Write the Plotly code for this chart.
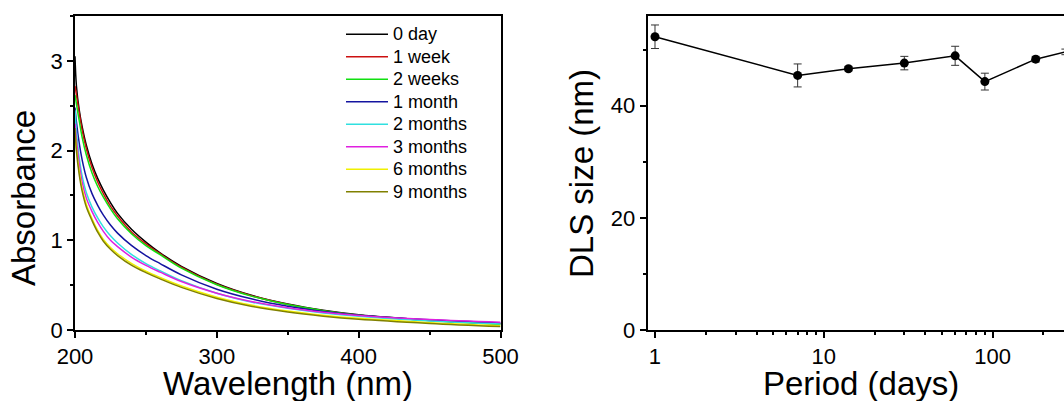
import plotly.graph_objects as go

# ---------------- data ----------------
wavelength = [200, 201, 203, 205, 208, 212, 216, 220, 225, 230, 240, 250, 260, 275, 300, 325, 350, 375, 400, 450, 500]

abs_0day    = [3.05, 2.72, 2.45, 2.27, 2.06, 1.85, 1.69, 1.56, 1.42, 1.30, 1.12, 0.98, 0.86, 0.71, 0.52, 0.385, 0.29, 0.22, 0.17, 0.11, 0.072]
abs_1week   = [2.72, 2.62, 2.42, 2.23, 2.02, 1.81, 1.65, 1.52, 1.38, 1.27, 1.09, 0.96, 0.85, 0.70, 0.51, 0.38, 0.285, 0.215, 0.165, 0.107, 0.068]
abs_2weeks  = [2.62, 2.52, 2.33, 2.15, 1.95, 1.75, 1.60, 1.48, 1.35, 1.24, 1.07, 0.94, 0.84, 0.69, 0.505, 0.375, 0.283, 0.215, 0.165, 0.105, 0.062]
abs_1month  = [2.48, 2.32, 2.08, 1.90, 1.70, 1.52, 1.39, 1.28, 1.17, 1.08, 0.94, 0.83, 0.74, 0.615, 0.455, 0.345, 0.265, 0.207, 0.165, 0.113, 0.078]
abs_2months = [2.45, 2.22, 1.92, 1.72, 1.53, 1.37, 1.25, 1.15, 1.05, 0.97, 0.84, 0.74, 0.66, 0.55, 0.41, 0.31, 0.242, 0.19, 0.152, 0.10, 0.066]
abs_3months = [2.30, 2.12, 1.85, 1.65, 1.47, 1.32, 1.20, 1.10, 1.00, 0.93, 0.81, 0.72, 0.645, 0.54, 0.41, 0.315, 0.248, 0.198, 0.162, 0.117, 0.087]
abs_6months = [2.20, 2.02, 1.77, 1.58, 1.40, 1.24, 1.11, 1.01, 0.92, 0.85, 0.74, 0.655, 0.585, 0.49, 0.365, 0.275, 0.212, 0.165, 0.13, 0.082, 0.048]
abs_9months = [2.25, 2.00, 1.73, 1.55, 1.37, 1.22, 1.09, 0.99, 0.90, 0.83, 0.72, 0.64, 0.57, 0.475, 0.352, 0.262, 0.20, 0.154, 0.119, 0.073, 0.038]

series_names = ["0 day", "1 week", "2 weeks", "1 month", "2 months", "3 months", "6 months", "9 months"]
series_values = [abs_0day, abs_1week, abs_2weeks, abs_1month, abs_2months, abs_3months, abs_6months, abs_9months]
series_colors = ["#000000", "#CC1010", "#10E010", "#1414A0", "#30E0E0", "#E020E0", "#F0F000", "#808000"]

period_days = [1, 7, 14, 30, 60, 90, 180, 270]
dls_size    = [52.3, 45.4, 46.6, 47.6, 48.9, 44.3, 48.3, 49.6]
dls_err     = [2.1, 2.05, 0.4, 1.2, 1.7, 1.5, 0.5, 0.5]

# ---------------- layout geometry (pixels) ----------------
W, H = 1064, 401
FONT = "Arial, Liberation Sans, sans-serif"


def px_x(p):
    return p / W


def px_y(p):
    return (H - p) / H


fig = go.Figure()

for name, vals, col in zip(series_names, series_values, series_colors):
    fig.add_trace(go.Scatter(
        x=wavelength, y=vals, mode="lines",
        name="<span style='font-size:18px'>%s</span>" % name,
        line=dict(color=col, width=1.5, shape="spline", smoothing=1.0),
        xaxis="x", yaxis="y", showlegend=True,
    ))

fig.add_trace(go.Scatter(
    x=period_days, y=dls_size, mode="lines+markers",
    line=dict(color="#000000", width=1.5),
    marker=dict(color="#000000", size=9, symbol="circle"),
    error_y=dict(type="data", array=dls_err, color="#333333", thickness=1, width=4),
    xaxis="x2", yaxis="y2", showlegend=False, cliponaxis=False,
))

axis_common = dict(
    showline=True, linecolor="#000000", linewidth=1.5,
    ticks="outside", ticklen=6, tickwidth=1.5, tickcolor="#000000",
    showgrid=False, zeroline=False, automargin=False,
    tickfont=dict(family=FONT, size=22, color="#000000"),
)
minor_common = dict(ticks="outside", ticklen=3, tickwidth=1.5, tickcolor="#000000")

ydom = [px_y(330), px_y(16)]

fig.update_layout(
    width=W, height=H,
    margin=dict(l=0, r=0, t=0, b=0, pad=0, autoexpand=False),
    paper_bgcolor="white", plot_bgcolor="white",
    font=dict(family=FONT, color="#000000"),
    xaxis=dict(domain=[px_x(75), px_x(500.5)], range=[200, 500], anchor="y",
               tickvals=[200, 300, 400, 500], mirror=True,
               minor=dict(dtick=50, tick0=200, **minor_common),
               **axis_common),
    yaxis=dict(domain=ydom, range=[0, 3.5], anchor="x",
               tickvals=[0, 1, 2, 3], mirror=True,
               minor=dict(dtick=0.5, tick0=0, **minor_common),
               **axis_common),
    xaxis2=dict(domain=[px_x(647.5), 1.0], type="log", range=[-0.0444, 2.423], anchor="y2",
                tickvals=[1, 10, 100], ticktext=["1", "10", "100"], mirror=True,
                minor=dict(tickvals=[2, 3, 4, 5, 6, 7, 8, 9, 20, 30, 40, 50, 60, 70, 80, 90, 200],
                           **minor_common),
                **axis_common),
    yaxis2=dict(domain=ydom, range=[0, 56], anchor="x2",
                tickvals=[0, 20, 40],
                minor=dict(dtick=10, tick0=0, **minor_common),
                **axis_common),
    legend=dict(x=px_x(341), y=px_y(18), xanchor="left", yanchor="top",
                font=dict(family=FONT, size=15, color="#000000"),
                bgcolor="rgba(0,0,0,0)", borderwidth=0, itemwidth=42,
                tracegroupgap=0),
)

title_font = dict(family=FONT, size=33, color="#000000")
fig.add_annotation(text="Absorbance", xref="paper", yref="paper", x=px_x(23), y=px_y(198),
                   xanchor="center", yanchor="middle", textangle=-90, showarrow=False,
                   font=title_font, borderpad=0)
fig.add_annotation(text="Wavelength (nm)", xref="paper", yref="paper", x=px_x(288), y=px_y(383),
                   xanchor="center", yanchor="middle", showarrow=False, font=title_font, borderpad=0)
fig.add_annotation(text="DLS size (nm)", xref="paper", yref="paper", x=px_x(582), y=px_y(174),
                   xanchor="center", yanchor="middle", textangle=-90, showarrow=False,
                   font=title_font, borderpad=0)
fig.add_annotation(text="Period (days)", xref="paper", yref="paper", x=px_x(861), y=px_y(383),
                   xanchor="center", yanchor="middle", showarrow=False, font=title_font, borderpad=0)

fig.write_html("out.html", config={"displayModeBar": False},
               post_script="document.body.style.margin='0px';document.body.style.overflow='hidden';")
